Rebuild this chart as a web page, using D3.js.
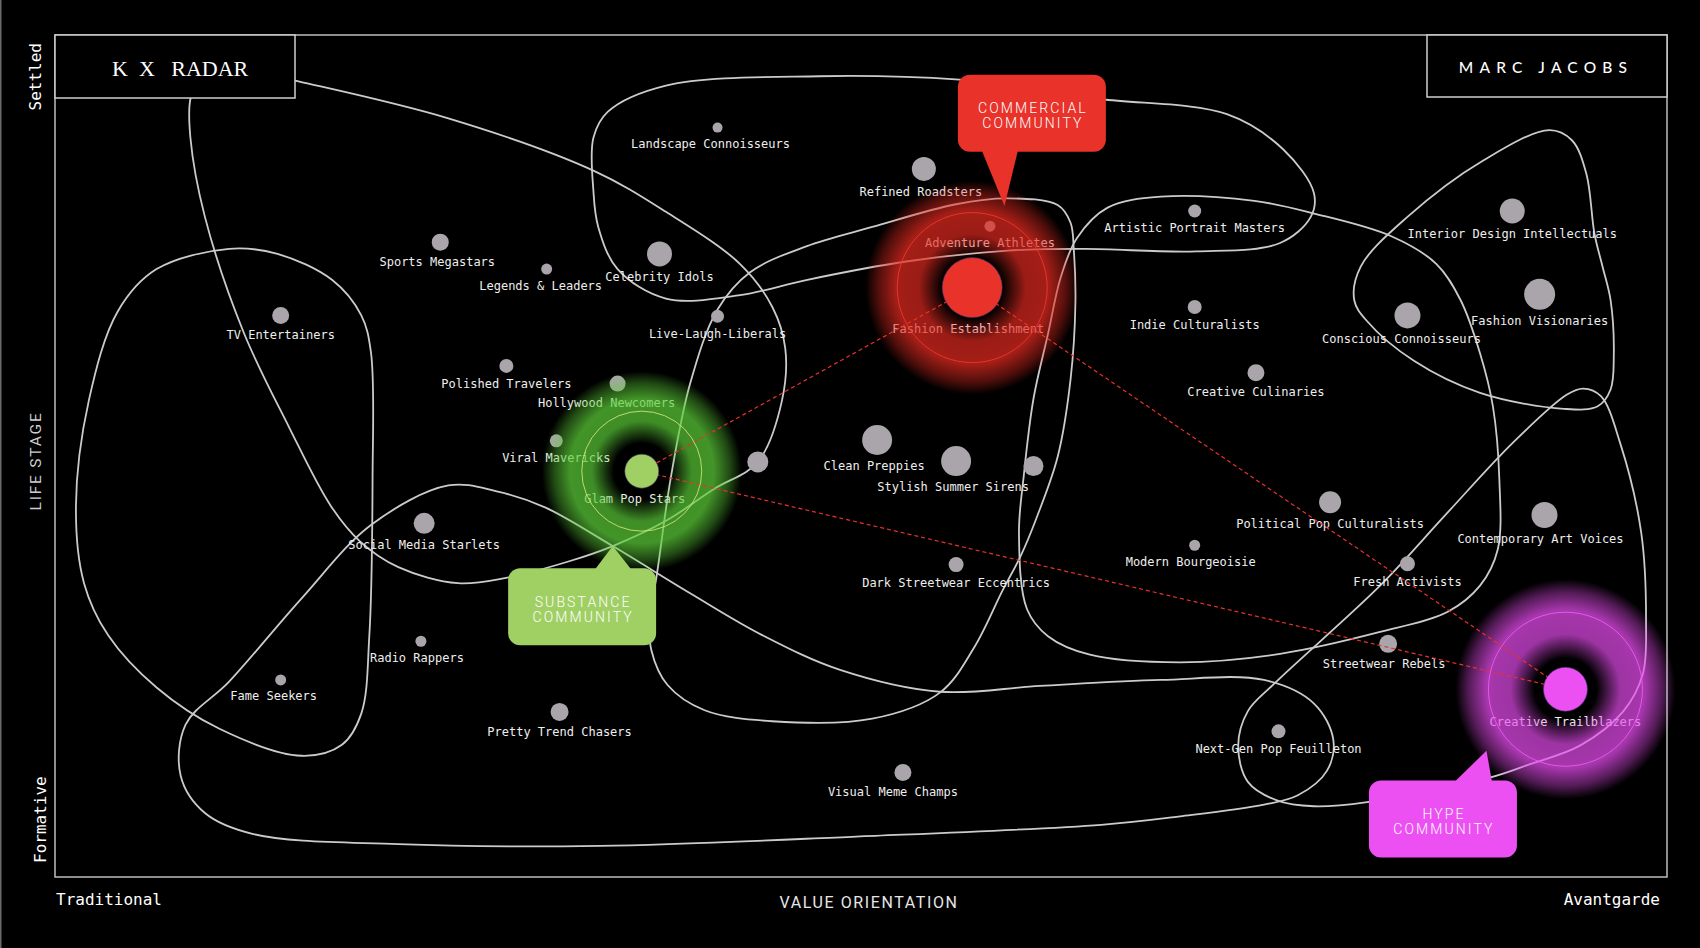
<!DOCTYPE html>
<html>
<head>
<meta charset="utf-8">
<script src="https://cdn.jsdelivr.net/npm/d3@7"></script>
<style>
  html, body { margin: 0; padding: 0; background: #000; }
  svg { display: block; }
</style>
</head>
<body>
<div id="chart"></div>
<script>
// segments: value orientation (0 = traditional .. 100 = avantgarde), life stage (0 = formative .. 100 = settled)
const segmentNames = [
  "Landscape Connoisseurs", "Refined Roadsters", "Adventure Athletes", "Artistic Portrait Masters",
  "Interior Design Intellectuals", "Sports Megastars", "Legends & Leaders", "Celebrity Idols",
  "TV Entertainers", "Live-Laugh-Liberals", "Fashion Establishment", "Indie Culturalists",
  "Conscious Connoisseurs", "Fashion Visionaries", "Polished Travelers", "Hollywood Newcomers",
  "Creative Culinaries", "Viral Mavericks", "Glam Pop Stars", "",
  "Clean Preppies", "Stylish Summer Sirens", "", "Social Media Starlets",
  "Political Pop Culturalists", "Contemporary Art Voices", "Modern Bourgeoisie", "Dark Streetwear Eccentrics",
  "Fresh Activists", "Radio Rappers", "Streetwear Rebels", "Creative Trailblazers",
  "Fame Seekers", "Pretty Trend Chasers", "Next-Gen Pop Feuilleton", "Visual Meme Champs"
];
const valueOrientation = [
  41.1, 53.9, 58.0, 70.7, 90.4, 23.9, 30.5, 37.5,
  14.0, 41.1, 56.9, 70.7, 83.9, 92.1, 28.0, 34.9,
  74.5, 31.1, 36.4, 43.6, 51.0, 55.9, 60.7, 22.9,
  79.1, 92.4, 70.7, 55.9, 83.9, 22.7, 82.7, 93.7,
  14.0, 31.3, 75.9, 52.6
];
const lifeStage = [
  89.0, 84.1, 77.3, 79.1, 79.1, 75.4, 72.2, 74.0,
  66.7, 66.6, 70.0, 67.7, 66.7, 69.2, 60.7, 58.6,
  59.9, 51.8, 48.2, 49.3, 51.9, 49.4, 48.8, 42.0,
  44.5, 43.0, 39.4, 37.1, 37.2, 28.0, 27.7, 22.3,
  23.4, 19.6, 17.3, 12.4
];
const segmentSize = [
  5, 12, 5.5, 6.5, 12.5, 8.5, 5.5, 12.5,
  8.5, 6.5, 30, 7, 13, 15.5, 7, 8,
  8.5, 6.5, 17, 10.5, 15, 15, 10, 10.5,
  11, 13, 5.5, 7.5, 7.5, 5.5, 9, 22,
  5.5, 9, 7, 8.5
];

// communities and their core segment
const communityNames = [["COMMERCIAL", "COMMUNITY"], ["SUBSTANCE", "COMMUNITY"], ["HYPE", "COMMUNITY"]];
const communityCore = ["Fashion Establishment", "Glam Pop Stars", "Creative Trailblazers"];
const communityLinks = [
  ["Fashion Establishment", "Glam Pop Stars"],
  ["Fashion Establishment", "Creative Trailblazers"],
  ["Glam Pop Stars", "Creative Trailblazers"]
];

// cluster outlines [value orientation, life stage]
const hullCelebrity = [[8.4,92.4],[8.4,87.8],[9.3,78.4],[11.7,64.7],[14.5,53.5],[17.1,44.1],[18.9,39.9],[21.3,36.8],[25.0,34.9],[27.9,35.5],[31.9,37.5],[34.6,39.3],[37.9,42.3],[40.9,46.1],[43.6,49.3],[45.1,56.6],[45.3,62.8],[44.5,67.7],[42.5,72.8],[37.9,79.0],[33.4,83.9],[24.4,90.1],[15.1,94.5],[11.7,95.9],[9.0,95.1]];
const hullBroadcast = [[10.8,74.6],[13.8,74.0],[17.2,70.9],[19.0,66.7],[19.6,62.3],[19.7,47.4],[19.5,28.7],[19.0,19.4],[17.8,15.7],[15.3,14.4],[10.2,17.6],[6.3,22.5],[3.3,28.7],[1.8,34.9],[1.3,44.1],[2.1,56.6],[3.9,67.2],[6.3,72.2]];
const hullYouth = [[8.1,18.1],[10.8,23.2],[15.3,33.1],[19.6,41.8],[24.4,46.5],[27.4,45.8],[30.4,43.9],[34.6,39.3],[39.4,33.7],[43.9,28.7],[48.7,24.6],[54.9,22.0],[61.1,22.7],[68.6,23.4],[75.0,23.4],[78.1,20.6],[79.3,16.3],[78.9,12.6],[77.1,9.7],[75.0,8.6],[69.8,7.2],[64.9,6.2],[49.7,4.8],[33.8,3.7],[21.3,3.9],[12.3,5.1],[9.3,7.6],[7.8,12.0]];
const hullLifestyle = [[33.4,87.8],[34.3,90.9],[37.9,94.0],[47.4,95.1],[56.1,94.7],[61.2,93.6],[64.9,92.4],[72.7,90.6],[76.2,86.4],[78.1,81.2],[77.9,78.4],[76.0,75.3],[70.8,74.3],[63.9,74.6],[59.1,74.4],[52.8,73.1],[46.6,70.9],[42.5,69.1],[37.9,68.7],[34.9,72.2],[33.7,77.2],[33.4,81.5]];
const hullMainstream = [[37.3,35.5],[38.2,47.4],[39.4,58.6],[41.1,67.4],[43.1,71.8],[46.6,74.9],[50.7,77.2],[55.9,79.9],[59.1,80.6],[62.2,79.8],[63.0,77.7],[63.2,74.5],[63.3,68.1],[63.0,59.1],[62.2,49.9],[60.9,42.7],[59.9,38.1],[58.8,34.1],[57.0,27.2],[54.9,21.9],[50.7,18.8],[44.5,18.5],[40.3,19.8],[38.0,22.8],[37.0,26.9],[36.9,31.3]];
const hullCulture = [[68.6,80.8],[65.3,79.5],[63.4,75.9],[62.4,71.3],[61.6,64.5],[60.7,56.8],[60.1,47.7],[59.8,40.8],[60.3,31.8],[61.6,28.6],[64.2,26.4],[69.8,25.5],[76.0,26.5],[82.2,29.1],[86.4,31.5],[88.4,34.6],[89.5,38.9],[89.6,47.2],[89.2,55.9],[88.4,62.2],[87.2,68.5],[85.7,72.8],[82.9,76.1],[78.1,78.8],[74.4,80.3]];
const hullVanguard = [[75.6,22.9],[82.2,34.6],[86.3,43.1],[90.4,51.5],[93.8,57.3],[94.8,58.0],[95.9,57.1],[97.1,51.5],[98.4,40.9],[98.7,30.4],[98.5,24.1],[97.3,19.7],[94.6,15.6],[91.5,13.4],[89.0,11.8],[81.4,8.9],[78.1,8.4],[75.8,9.1],[74.0,11.3],[73.4,15.6],[74.0,19.7]];
const hullIntellect = [[92.7,88.7],[94.1,87.5],[95.0,83.5],[95.5,76.4],[96.0,72.5],[96.5,68.5],[96.7,62.0],[96.5,57.9],[95.7,55.9],[93.6,55.6],[88.4,57.5],[84.3,61.3],[81.4,66.0],[80.6,68.5],[81.0,72.5],[83.9,78.4],[88.6,85.1]];

const hulls = [hullCelebrity, hullBroadcast, hullYouth, hullLifestyle, hullMainstream, hullCulture, hullVanguard, hullIntellect];

// ---- layout ----
const W = 1700, H = 948;
const frame = { left: 55, top: 35, right: 1667, bottom: 877 };
const mono = "'DejaVu Sans Mono', 'Liberation Mono', monospace";
const sans = "Roboto, 'Noto Sans', sans-serif";

const communityStyle = [
  { color: "#e8322a", glow: "#e42a20", ring: "#f0382e", glowR: 107, ringR: 75,
    box: [60.6, 90.7], tip: [58.9, 79.7], base: [-50, -14] },
  { color: "#a0cf64", glow: "#5ccf38", ring: "#d3e878", glowR: 100, ringR: 60,
    box: [32.7, 32.1], tip: [34.6, 39.3], base: [13, 49] },
  { color: "#ec4ff2", glow: "#e84cf0", ring: "#ee5ef4", glowR: 110, ringR: 77,
    box: [86.1, 6.9], tip: [88.8, 15.0], base: [12, 49] }
];
const boxW = 148, boxH = 77;
const labelNudge = {
  "Hollywood Newcomers": -11, "Visual Meme Champs": -10, "Glam Pop Stars": -7, "Fame Seekers": -7,
  "Landscape Connoisseurs": -7, "Legends & Leaders": -6, "Conscious Connoisseurs": -6,
  "Contemporary Art Voices": -4, "Streetwear Rebels": -4, "Modern Bourgeoisie": -4, "Fashion Establishment": -4,
  "Radio Rappers": -4, "Sports Megastars": -3, "Refined Roadsters": -3, "Clean Preppies": -3, "Stylish Summer Sirens": -3
};

const x = d3.scaleLinear().domain([0, 100]).range([frame.left, frame.right]);
const y = d3.scaleLinear().domain([0, 100]).range([frame.bottom, frame.top]);
const r = d3.scaleLinear().domain([0, 30]).range([0, 30]);

const segments = segmentNames.map((name, i) => ({
  name, vo: valueOrientation[i], ls: lifeStage[i], size: segmentSize[i],
  core: communityCore.indexOf(name)
}));
const byName = new Map(segments.filter(d => d.name).map(d => [d.name, d]));

const svg = d3.select("#chart").append("svg")
  .attr("width", W).attr("height", H)
  .style("background", "#000");

const defs = svg.append("defs");
defs.append("filter").attr("id", "soft").append("feGaussianBlur").attr("stdDeviation", 0.6);
communityStyle.forEach((c, i) => {
  const grad = defs.append("radialGradient").attr("id", "glow" + i);
  [[0, 0], [0.28, 0], [0.5, 0.68], [0.72, 0.72], [0.88, 0.36], [1, 0]].forEach(([o, a]) => {
    grad.append("stop").attr("offset", o).attr("stop-color", c.glow).attr("stop-opacity", a);
  });
});

// thin edge on the far left
svg.append("rect").attr("x", 0).attr("y", 0).attr("width", 1.5).attr("height", H).attr("fill", "#6a6a6a");

// cluster outlines
const hullLine = d3.line()
  .x(d => x(d[0])).y(d => y(d[1]))
  .curve(d3.curveCatmullRomClosed.alpha(0.5));

svg.append("g").selectAll("path")
  .data(hulls)
  .join("path")
  .attr("d", hullLine)
  .attr("fill", "none")
  .attr("stroke", "#cbcbcb")
  .attr("stroke-width", 1.8);

// segment dots
const plain = segments.filter(d => d.core < 0);
svg.append("g").selectAll("circle")
  .data(plain)
  .join("circle")
  .attr("cx", d => x(d.vo))
  .attr("cy", d => y(d.ls))
  .attr("r", d => r(d.size))
  .attr("fill", "#aaa4ab")
  .attr("filter", "url(#soft)");

// labels
svg.append("g").selectAll("text")
  .data(segments.filter(d => d.name))
  .join("text")
  .attr("x", d => x(d.vo) + (labelNudge[d.name] || 0))
  .attr("y", d => y(d.ls) + r(d.size) + 15)
  .attr("text-anchor", "middle")
  .attr("font-family", mono)
  .attr("font-size", 12)
  .attr("fill", "#eeeeee")
  .text(d => d.name);

// community glows
const cores = communityCore.map(n => byName.get(n));
svg.append("g").selectAll("circle")
  .data(cores)
  .join("circle")
  .attr("cx", d => x(d.vo))
  .attr("cy", d => y(d.ls))
  .attr("r", (d, i) => communityStyle[i].glowR)
  .attr("fill", (d, i) => `url(#glow${i})`);

// links between communities
svg.append("g").selectAll("line")
  .data(communityLinks)
  .join("line")
  .attr("x1", d => x(byName.get(d[0]).vo))
  .attr("y1", d => y(byName.get(d[0]).ls))
  .attr("x2", d => x(byName.get(d[1]).vo))
  .attr("y2", d => y(byName.get(d[1]).ls))
  .attr("stroke", "#e8322a")
  .attr("stroke-width", 1.2)
  .attr("stroke-dasharray", "4 3");

// rings and core dots
svg.append("g").selectAll("circle")
  .data(cores)
  .join("circle")
  .attr("cx", d => x(d.vo))
  .attr("cy", d => y(d.ls))
  .attr("r", (d, i) => communityStyle[i].ringR)
  .attr("fill", "none")
  .attr("stroke", (d, i) => communityStyle[i].ring)
  .attr("stroke-opacity", 0.85)
  .attr("stroke-width", 1);

svg.append("g").selectAll("circle")
  .data(cores)
  .join("circle")
  .attr("cx", d => x(d.vo))
  .attr("cy", d => y(d.ls))
  .attr("r", d => r(d.size))
  .attr("fill", (d, i) => communityStyle[i].color)
  .attr("stroke", "rgba(70,50,110,0.6)")
  .attr("stroke-width", 1);

// callouts
const callouts = svg.append("g").selectAll("g")
  .data(communityNames)
  .join("g");

callouts.each(function (lines, i) {
  const c = communityStyle[i];
  const g = d3.select(this);
  const cx = x(c.box[0]), cy = y(c.box[1]);
  const tx = x(c.tip[0]), ty = y(c.tip[1]);
  const edge = ty < cy ? cy - boxH / 2 + 1 : cy + boxH / 2 - 1;
  g.append("path")
    .attr("d", `M${cx + c.base[0]},${edge}L${tx},${ty}L${cx + c.base[1]},${edge}Z`)
    .attr("fill", c.color);
  g.append("rect")
    .attr("x", cx - boxW / 2).attr("y", cy - boxH / 2)
    .attr("width", boxW).attr("height", boxH)
    .attr("rx", 12)
    .attr("fill", c.color);
  g.selectAll("text")
    .data(lines)
    .join("text")
    .attr("x", cx + 1)
    .attr("y", (d, j) => cy + j * 15)
    .attr("text-anchor", "middle")
    .attr("font-family", sans)
    .attr("font-weight", 300)
    .attr("font-size", 14)
    .attr("letter-spacing", "2.1px")
    .attr("fill", "#ffffff")
    .text(d => d);
});

// frame
svg.append("rect")
  .attr("x", frame.left).attr("y", frame.top)
  .attr("width", frame.right - frame.left).attr("height", frame.bottom - frame.top)
  .attr("fill", "none")
  .attr("stroke", "#bdbdbd")
  .attr("stroke-width", 1.5);

// title boxes
svg.append("rect")
  .attr("x", frame.left).attr("y", frame.top).attr("width", 240).attr("height", 63)
  .attr("fill", "#000").attr("stroke", "#cfcfcf").attr("stroke-width", 1.5);
svg.append("text")
  .attr("x", frame.left + 57).attr("y", frame.top + 41)
  .attr("font-family", "'Liberation Serif', 'DejaVu Serif', serif")
  .attr("font-size", 22)
  .attr("fill", "#fff")
  .style("white-space", "pre")
  .text("K  X   RADAR");

svg.append("rect")
  .attr("x", frame.right - 240).attr("y", frame.top).attr("width", 240).attr("height", 62)
  .attr("fill", "#000").attr("stroke", "#cfcfcf").attr("stroke-width", 1.5);
svg.append("text")
  .attr("x", frame.right - 120 - 1).attr("y", frame.top + 38)
  .attr("text-anchor", "middle")
  .attr("font-family", "Lato, 'Noto Sans', sans-serif")
  .attr("font-weight", 500)
  .attr("font-size", 15.5)
  .attr("letter-spacing", "6.2px")
  .attr("fill", "#fff")
  .text("MARC JACOBS");

// axis texts
svg.append("text")
  .attr("transform", `translate(41,${frame.top + 8}) rotate(-90)`)
  .attr("text-anchor", "end")
  .attr("font-family", mono).attr("font-size", 16).attr("fill", "#fff")
  .text("Settled");
svg.append("text")
  .attr("transform", `translate(46,${frame.bottom - 14}) rotate(-90)`)
  .attr("text-anchor", "start")
  .attr("font-family", mono).attr("font-size", 16).attr("fill", "#fff")
  .text("Formative");
svg.append("text")
  .attr("transform", `translate(41,${(frame.top + frame.bottom) / 2 + 5}) rotate(-90)`)
  .attr("text-anchor", "middle")
  .attr("font-family", sans).attr("font-size", 15.5).attr("letter-spacing", "1.8px")
  .attr("fill", "#cfcfcf")
  .text("LIFE STAGE");

svg.append("text")
  .attr("x", frame.left + 1).attr("y", frame.bottom + 28)
  .attr("font-family", mono).attr("font-size", 16).attr("fill", "#fff")
  .text("Traditional");
svg.append("text")
  .attr("x", frame.right - 7).attr("y", frame.bottom + 28)
  .attr("text-anchor", "end")
  .attr("font-family", mono).attr("font-size", 16).attr("fill", "#fff")
  .text("Avantgarde");
svg.append("text")
  .attr("x", (frame.left + frame.right) / 2 + 8).attr("y", frame.bottom + 31)
  .attr("text-anchor", "middle")
  .attr("font-family", sans).attr("font-size", 16).attr("letter-spacing", "1.6px")
  .attr("fill", "#e6e6e6")
  .text("VALUE ORIENTATION");
</script>
</body>
</html>
